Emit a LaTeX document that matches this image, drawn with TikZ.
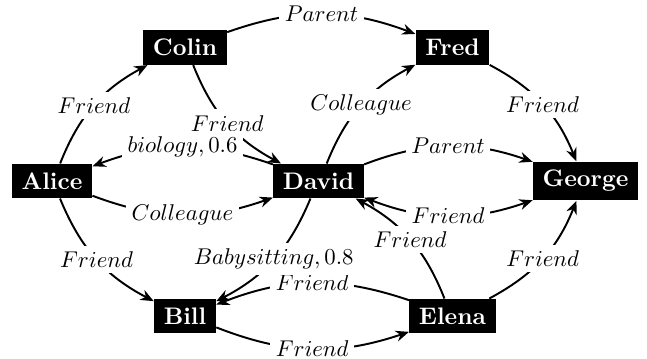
\documentclass[tikz,border=0pt]{standalone}
\usetikzlibrary{arrows.meta}
\begin{document}
\begin{tikzpicture}[x=0.4386pt, y=-0.4386pt,
  >={Stealth[length=5.8pt,width=4.8pt]},
  person/.style={fill=black, text=white, font=\fontsize{10.5}{12}\selectfont\bfseries, inner xsep=4.2pt, inner ysep=3.8pt},
  lbl/.style={fill=white, inner sep=2.5pt},
  rel/.style={line width=0.85pt, ->}]
\useasboundingbox (0,0) rectangle (647,358);
\node[person] (alice)  at (52,181)    {Alice};
\node[person] (colin)  at (185,47.5)  {Colin};
\node[person] (fred)   at (452.5,47.5) {Fred};
\node[person] (david)  at (318.5,181) {David};
\node[person] (george) at (585.5,181) {George};
\node[person] (bill)   at (185,316)   {Bill};
\node[person] (elena)  at (452.5,316) {Elena};

\draw[rel] (alice) to[bend left=20] node[lbl]{$Friend$} (colin);
\draw[rel] (colin) to[bend right=20] node[lbl]{$Friend$} (david);
\draw[rel] (david) to[bend right=20] node[lbl]{$biology, 0.6$} (alice);
\draw[rel] (alice) to[bend right=20] node[lbl]{$Colleague$} (david);
\draw[rel] (alice) to[bend right=20] node[lbl]{$Friend$} (bill);
\draw[rel] (colin) to[bend left=20] node[lbl]{$Parent$} (fred);
\draw[rel] (david) to[bend left=20] node[lbl]{$Colleague$} (fred);
\draw[rel] (fred) to[bend left=20] node[lbl]{$Friend$} (george);
\draw[rel] (david) to[bend left=20] node[lbl]{$Parent$} (george);
\draw[rel, <->] (david) to[bend right=20] node[lbl]{$Friend$} (george);
\draw[rel] (elena) to[bend right=20] node[lbl]{$Friend$} (david);
\draw[rel] (elena) to[bend right=20] node[lbl]{$Friend$} (bill);
\draw[rel] (david) to[bend left=20] node[lbl]{$Babysitting, 0.8$} (bill);
\draw[rel] (bill) to[bend right=20] node[lbl]{$Friend$} (elena);
\draw[rel] (elena) to[bend right=20] node[lbl]{$Friend$} (george);
\end{tikzpicture}
\end{document}
